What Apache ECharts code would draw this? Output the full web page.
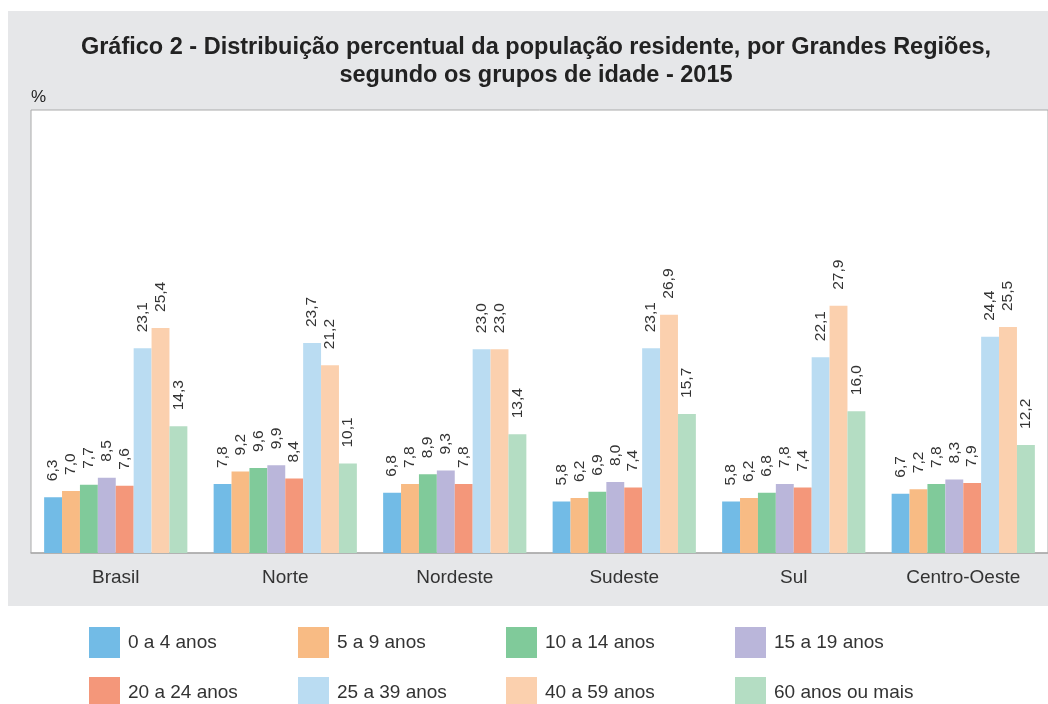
<!DOCTYPE html>
<html lang="pt">
<head>
    <meta charset="UTF-8">
    <title>Gráfico 2</title>
    <script src="https://cdn.jsdelivr.net/npm/echarts@6/dist/echarts.min.js"></script>
    <style>
        html, body {
            margin: 0;
            height: 100%;
            width: 100%;
            overflow: hidden;
            background: #fff;
        }
        #chart {
            width: 1048px;
            height: 704px;
        }
    </style>
</head>
<body>
<div id="chart"></div>
<script>
    // dados
    var regioes = ['Brasil', 'Norte', 'Nordeste', 'Sudeste', 'Sul', 'Centro-Oeste'];
    var grupos = ['0 a 4 anos', '5 a 9 anos', '10 a 14 anos', '15 a 19 anos',
        '20 a 24 anos', '25 a 39 anos', '40 a 59 anos', '60 anos ou mais'];
    var cores = ['#72bbe6', '#f8bb84', '#80ca9a', '#bab6da', '#f4977a', '#badcf2', '#fbd0ae', '#b4ddc3'];

    var g0a4 = [6.3, 7.8, 6.8, 5.8, 5.8, 6.7];
    var g5a9 = [7.0, 9.2, 7.8, 6.2, 6.2, 7.2];
    var g10a14 = [7.7, 9.6, 8.9, 6.9, 6.8, 7.8];
    var g15a19 = [8.5, 9.9, 9.3, 8.0, 7.8, 8.3];
    var g20a24 = [7.6, 8.4, 7.8, 7.4, 7.4, 7.9];
    var g25a39 = [23.1, 23.7, 23.0, 23.1, 22.1, 24.4];
    var g40a59 = [25.4, 21.2, 23.0, 26.9, 27.9, 25.5];
    var g60mais = [14.3, 10.1, 13.4, 15.7, 16.0, 12.2];
    var valores = [g0a4, g5a9, g10a14, g15a19, g20a24, g25a39, g40a59, g60mais];

    var chart = echarts.init(document.getElementById('chart'));

    var series = grupos.map(function (nome, i) {
        return {
            name: nome,
            type: 'bar',
            data: valores[i],
            barGap: 0,
            barCategoryGap: '15.5%',
            itemStyle: {color: cores[i]},
            label: {
                show: true,
                position: 'top',
                rotate: 90,
                align: 'left',
                verticalAlign: 'middle',
                distance: 16,
                fontSize: 15.5,
                fontFamily: 'Liberation Sans',
                color: '#333',
                formatter: function (p) {
                    return p.value.toFixed(1).replace('.', ',');
                }
            }
        };
    });

    // legenda: 4 colunas x 2 linhas, uma legenda por item
    var colunasX = [89, 298, 506, 735];
    var linhasY = [627, 677];
    var legendas = grupos.map(function (nome, i) {
        return {
            left: colunasX[i % 4],
            top: linhasY[Math.floor(i / 4)],
            padding: 0,
            itemWidth: 31,
            itemHeight: 31,
            icon: 'rect',
            selectedMode: false,
            data: [nome],
            textStyle: {
                fontSize: 19,
                fontFamily: 'Liberation Sans',
                color: '#333',
                padding: [0, 0, 0, 3]
            }
        };
    });

    chart.setOption({
        animation: false,
        backgroundColor: '#fff',
        graphic: [
            {
                type: 'rect',
                z: -10,
                shape: {x: 8, y: 11, width: 1040, height: 595},
                style: {fill: '#e6e7e9'}
            },
            {
                type: 'text',
                style: {
                    x: 536,
                    y: 34,
                    text: 'Gráfico 2 - Distribuição percentual da população residente, por Grandes Regiões,\nsegundo os grupos de idade - 2015',
                    textAlign: 'center',
                    fontSize: 23.5,
                    fontWeight: 'bold',
                    fontFamily: 'Liberation Sans',
                    lineHeight: 28,
                    fill: '#222'
                }
            },
            {
                type: 'text',
                style: {
                    x: 31,
                    y: 89,
                    text: '%',
                    fontSize: 17,
                    fontFamily: 'Liberation Sans',
                    fill: '#222'
                }
            }
        ],
        grid: {
            left: 31,
            right: 0,
            top: 110,
            bottom: 151,
            show: true,
            backgroundColor: '#fff',
            borderColor: '#aaa',
            borderWidth: 1
        },
        legend: legendas,
        xAxis: {
            type: 'category',
            data: regioes,
            axisLine: {lineStyle: {color: '#aaa', width: 1.5}},
            axisTick: {show: false},
            axisLabel: {
                fontSize: 19,
                fontFamily: 'Liberation Sans',
                color: '#333',
                margin: 15
            }
        },
        yAxis: {
            type: 'value',
            min: 0,
            max: 50,
            show: false,
            splitLine: {show: false}
        },
        series: series
    });
</script>
</body>
</html>
